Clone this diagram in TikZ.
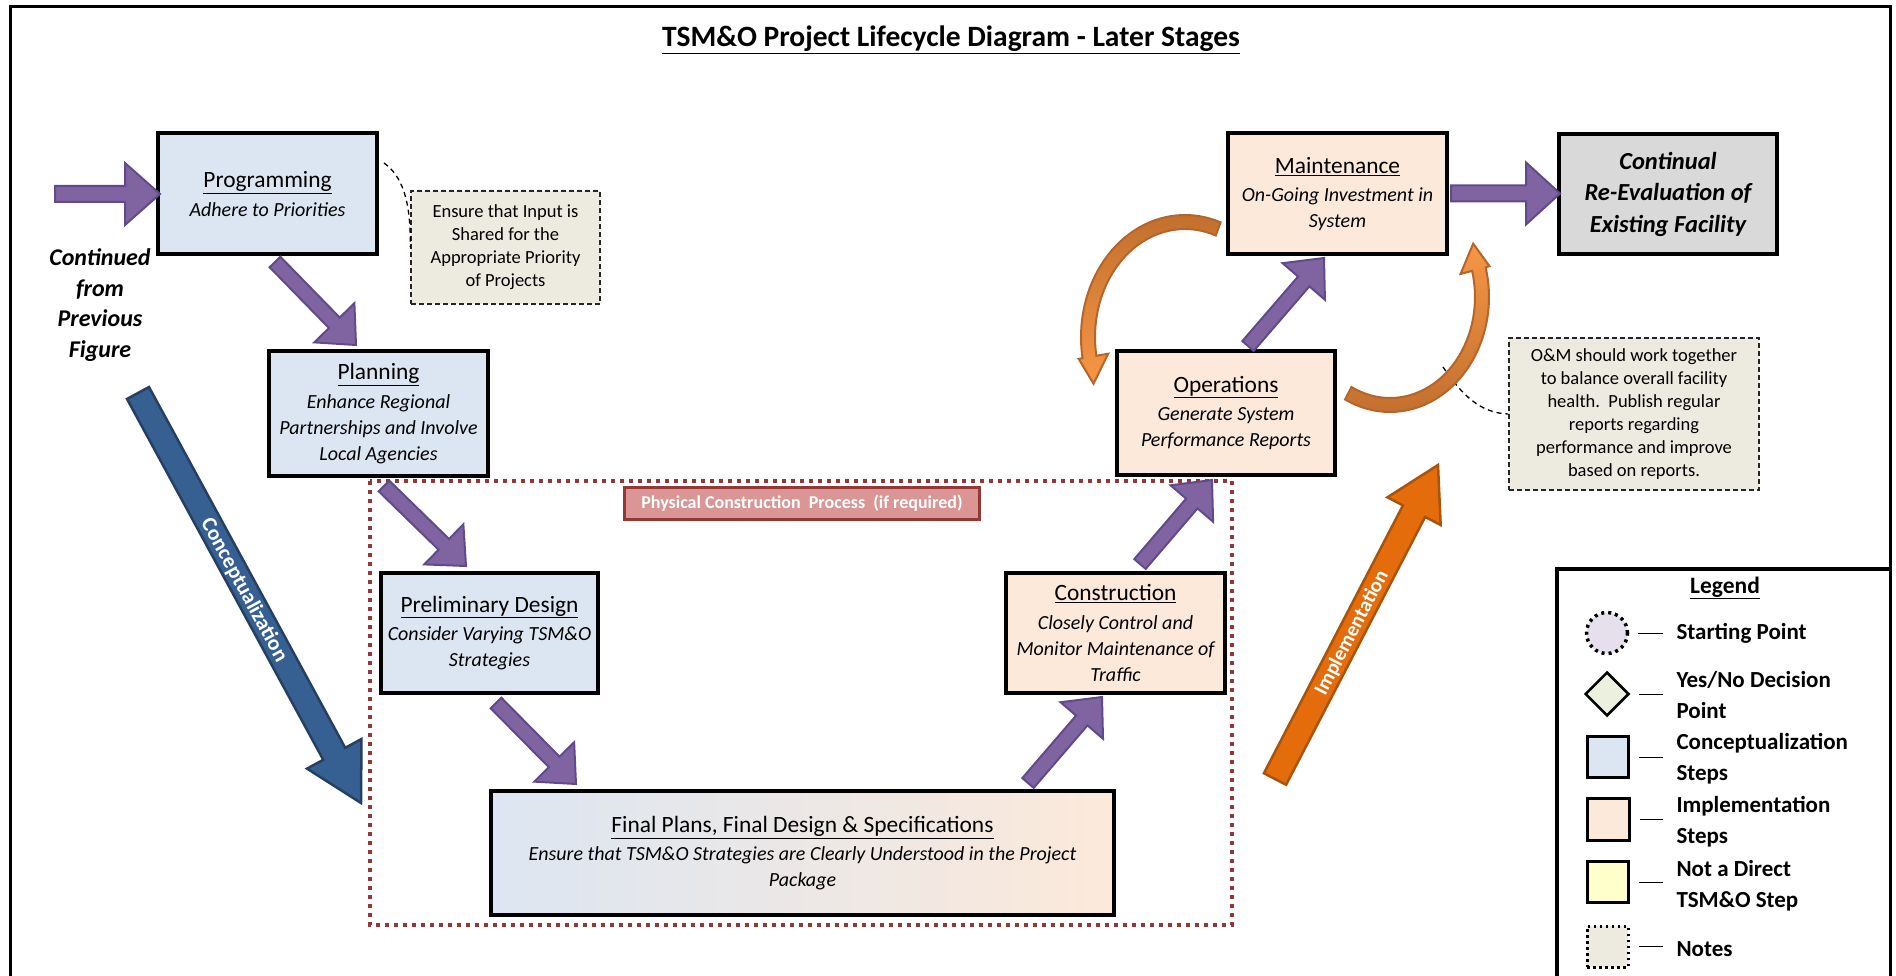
\documentclass[tikz,border=0pt]{standalone}
\usepackage{fontspec}
\setmainfont{Carlito}
\usetikzlibrary{calc,shapes.geometric}
\definecolor{cbl}{HTML}{DCE6F2}
\definecolor{ipk}{HTML}{FCE9DA}
\definecolor{contc}{HTML}{D9D9D9}
\definecolor{notec}{HTML}{EDEBE0}
\definecolor{purp}{HTML}{8064A2}
\definecolor{purpd}{HTML}{5F4B8B}
\definecolor{cblue}{HTML}{376092}
\definecolor{cblued}{HTML}{254061}
\definecolor{iorg}{HTML}{E46C0A}
\definecolor{iorgd}{HTML}{A8540C}
\definecolor{orgdark}{HTML}{C2702F}
\definecolor{orglight}{HTML}{F79646}
\definecolor{orgline}{HTML}{B5642A}
\definecolor{redd}{HTML}{953735}
\definecolor{redl}{HTML}{D99694}
\definecolor{startc}{HTML}{E5E0EC}
\definecolor{decc}{HTML}{EBF1DE}
\definecolor{ylw}{HTML}{FFFFCC}
\newcommand{\fsz}[2]{\fontsize{#1pt}{#2pt}\selectfont}
\newcommand{\barrow}[6]{%
  \coordinate (bah) at ($(#2)!#5!(#1)$);
  \filldraw[#6] ($(#1)!#3!90:(#2)$) -- ($(bah)!#3!-90:(#1)$) -- ($(bah)!#4!-90:(#1)$) -- (#2) -- ($(bah)!#4!90:(#1)$) -- ($(bah)!#3!90:(#1)$) -- ($(#1)!#3!-90:(#2)$) -- cycle;}
\newcommand{\stitle}[1]{{\fsz{23.4}{26}\underline{#1}}}
\tikzset{
  stepbox/.style={draw=black, line width=4pt, inner sep=0pt, align=center, font=\fsz{20}{26}},
  concept/.style={stepbox, fill=cbl},
  implst/.style={stepbox, fill=ipk},
  notebox/.style={draw=black!85, dash pattern=on 5pt off 3pt, line width=1.5pt, fill=notec, align=center, inner sep=0pt, font=\fsz{18.5}{23}},
  notelink/.style={draw=black, dash pattern=on 5pt off 4pt, line width=1.3pt},
  parrow/.style={fill=purp, draw=purpd, line width=2pt},
  carrow/.style={fill=cblue, draw=cblued, line width=2.5pt},
  iarrow/.style={fill=iorg, draw=iorgd, line width=2.5pt},
  curvearr/.style={draw=orgline, line width=2pt},
  legsym/.style={draw=black, line width=3pt, inner sep=0pt},
  legtxt/.style={anchor=west, align=left, font=\fsz{23}{31}\bfseries},
  legline/.style={draw=black, line width=1pt}
}
\begin{document}
\begin{tikzpicture}[x=1pt,y=-1pt]
\useasboundingbox (0,0) rectangle (1896,976);
\fill[white] (0,0) rectangle (1896,976);
% outer frame
\draw[line width=3pt] (10,990) -- (10,7) -- (1890,7) -- (1890,990);
% title
\node[font=\fsz{29.5}{34}\bfseries] (title) at (951,40) {\underline{TSM\&O Project Lifecycle Diagram - Later Stages}};
% physical construction region
\draw[draw=redd, line width=4pt, dash pattern=on 4pt off 5pt] (370,481) rectangle (1232,925);
\node[draw=redd, line width=3.5pt, fill=redl, minimum width=355pt, minimum height=32pt, inner sep=0pt, text=white, font=\fsz{18}{22}\bfseries] (phys) at (802,503.5) {Physical Construction\ \ Process\ \ (if required)};
% big side arrows
\coordinate (ctail) at (138,393);
\coordinate (ctip) at (361,803);
\barrow{ctail}{ctip}{12.5pt}{31pt}{56pt}{carrow}
\node[rotate=-61.5, text=white, font=\fsz{21.5}{24}\bfseries] (clabel) at (244,590) {Conceptualization};
\coordinate (itail) at (1275,779);
\coordinate (itip) at (1438,465);
\barrow{itail}{itip}{12.5pt}{30pt}{52pt}{iarrow}
\node[rotate=62.5, text=white, font=\fsz{20.5}{24}\bfseries] (ilabel) at (1352,633) {Implementation};
% step boxes
\node[concept, minimum width=219pt, minimum height=121pt] (prog) at (267.5,194)
  {\stitle{Programming}\\[2.5pt]\itshape Adhere to Priorities};
\node[concept, minimum width=219pt, minimum height=125pt] (plan) at (378.5,413.5)
  {\stitle{Planning}\\[2.5pt]\itshape Enhance Regional\\\itshape Partnerships and Involve\\\itshape Local Agencies};
\node[concept, minimum width=217pt, minimum height=120pt] (prel) at (489.5,633)
  {\stitle{Preliminary Design}\\[2.5pt]\itshape Consider Varying TSM\&O\\\itshape Strategies};
\node[stepbox, left color=cbl, right color=ipk, minimum width=623pt, minimum height=124pt] (final) at (802.5,853)
  {\stitle{Final Plans, Final Design \& Specifications}\\[1.5pt]\itshape Ensure that TSM\&O Strategies are Clearly Understood in the Project\\\itshape Package};
\node[implst, minimum width=219pt, minimum height=120pt] (cons) at (1115.5,633)
  {\stitle{Construction}\\[2.5pt]\itshape Closely Control and\\\itshape Monitor Maintenance of\\\itshape Traffic};
\node[implst, minimum width=218pt, minimum height=124pt] (oper) at (1226,413)
  {\stitle{Operations}\\[2.5pt]\itshape Generate System\\\itshape Performance Reports};
\node[implst, minimum width=219pt, minimum height=121pt] (maint) at (1337.5,194)
  {\stitle{Maintenance}\\[2.5pt]\itshape On-Going Investment in\\\itshape System};
\node[stepbox, fill=contc, minimum width=218pt, minimum height=120pt, font=\fsz{24.5}{31.5}\bfseries\itshape] (cont) at (1668,194)
  {Continual\\Re-Evaluation of\\Existing Facility};
% notes
\node[notebox, minimum width=189pt, minimum height=113pt] (note1) at (505.5,247.5)
  {Ensure that Input is\\Shared for the\\Appropriate Priority\\of Projects};
\node[notebox, minimum width=250pt, minimum height=152pt] (note2) at (1634,414)
  {O\&M should work together\\to balance overall facility\\health.\ \ Publish regular\\reports regarding\\performance and improve\\based on reports.};
\coordinate (n1s) at (384,163);
\draw[notelink] (n1s) .. controls (402,176) and (411,200) .. (note1.west);
\coordinate (n2s) at (1443,367);
\draw[notelink] (n2s) .. controls (1462,395) and (1480,413) .. (note2.west);
% continued text
\node[align=center, font=\fsz{24}{30.5}\bfseries\itshape] (contd) at (100,305) {Continued\\from\\Previous\\Figure};
% purple step arrows
\coordinate (a0s) at (55,194);   \coordinate (a0e) at (160,194);
\barrow{a0s}{a0e}{8pt}{31pt}{35pt}{parrow}
\coordinate (a1s) at (275,262);  \coordinate (a1e) at (356,345);
\barrow{a1s}{a1e}{7.5pt}{28pt}{31pt}{parrow}
\coordinate (a2s) at (384,486);  \coordinate (a2e) at (466,566);
\barrow{a2s}{a2e}{7.5pt}{28pt}{31pt}{parrow}
\coordinate (a3s) at (496,703);  \coordinate (a3e) at (576,784);
\barrow{a3s}{a3e}{7.5pt}{28pt}{31pt}{parrow}
\coordinate (a4s) at (1028,783); \coordinate (a4e) at (1102,697);
\barrow{a4s}{a4e}{7.5pt}{28pt}{31pt}{parrow}
\coordinate (a5s) at (1140,564); \coordinate (a5e) at (1212,480);
\barrow{a5s}{a5e}{7.5pt}{28pt}{31pt}{parrow}
\coordinate (a6s) at (1248,346); \coordinate (a6e) at (1324,258);
\barrow{a6s}{a6e}{7.5pt}{28pt}{31pt}{parrow}
\coordinate (a7s) at (1451,193.5); \coordinate (a7e) at (1560,193.5);
\barrow{a7s}{a7e}{8pt}{31pt}{34pt}{parrow}
% curved orange arrows between maintenance and operations
\draw[curvearr, top color=orgdark, bottom color=orglight]
  plot[domain=0:1, samples=40] ({1185+104*cos(-70-120*\x)}, {337+122*sin(-70-120*\x)})
  -- (1078.7,358.9) -- (1093.5,383.7) -- (1108.2,353.7)
  -- plot[domain=0:1, samples=40] ({1185+90*cos(-190+120*\x)}, {337+108*sin(-190+120*\x)})
  -- cycle;
\draw[curvearr, top color=orglight, bottom color=orgdark]
  plot[domain=0:1, samples=40] ({1390+99*cos(117-132*\x)}, {297+115*sin(117-132*\x)})
  -- (1489.5,266.2) -- (1473.2,243.6) -- (1460.5,274.0)
  -- plot[domain=0:1, samples=40] ({1390+85*cos(-15+132*\x)}, {297+101*sin(-15+132*\x)})
  -- cycle;
% legend
\draw[line width=4pt] (1557,990) -- (1557,569) -- (1890,569);
\node[font=\fsz{23.5}{26}\bfseries] (legt) at (1725,588) {\underline{Legend}};
\node[legsym, circle, fill=startc, minimum size=41pt, line width=3.5pt, dash pattern=on 3pt off 4pt] (ls1) at (1607,633) {};
\node[legsym, diamond, fill=decc, minimum size=44pt, line width=2.5pt] (ls2) at (1607,694) {};
\node[legsym, fill=cbl, minimum size=41pt] (ls3) at (1607.5,757) {};
\node[legsym, fill=ipk, minimum size=42pt] (ls4) at (1608,819.5) {};
\node[legsym, fill=ylw, minimum size=41pt] (ls5) at (1607.5,882) {};
\node[legsym, fill=notec, minimum size=41pt, dash pattern=on 2.5pt off 3.5pt] (ls6) at (1607.5,946.5) {};
\node[legtxt] (lt1) at (1673,633) {Starting Point};
\node[legtxt] (lt2) at (1673,695.5) {Yes/No Decision\\Point};
\node[legtxt] (lt3) at (1673,758.5) {Conceptualization\\Steps};
\node[legtxt] (lt4) at (1673,821.5) {Implementation\\Steps};
\node[legtxt] (lt5) at (1673,886) {Not a Direct\\TSM\&O Step};
\node[legtxt] (lt6) at (1673,949) {Notes};
\draw[legline, shorten <=9pt, shorten >=10pt] (ls1.east) -- (ls1.east -| lt1.west);
\draw[legline, shorten <=9pt, shorten >=10pt] (ls2.east) -- (ls2.east -| lt2.west);
\draw[legline, shorten <=9pt, shorten >=10pt] (ls3.east) -- (ls3.east -| lt3.west);
\draw[legline, shorten <=9pt, shorten >=10pt] (ls4.east) -- (ls4.east -| lt4.west);
\draw[legline, shorten <=9pt, shorten >=10pt] (ls5.east) -- (ls5.east -| lt5.west);
\draw[legline, shorten <=9pt, shorten >=10pt] (ls6.east) -- (ls6.east -| lt6.west);
\end{tikzpicture}
\end{document}
